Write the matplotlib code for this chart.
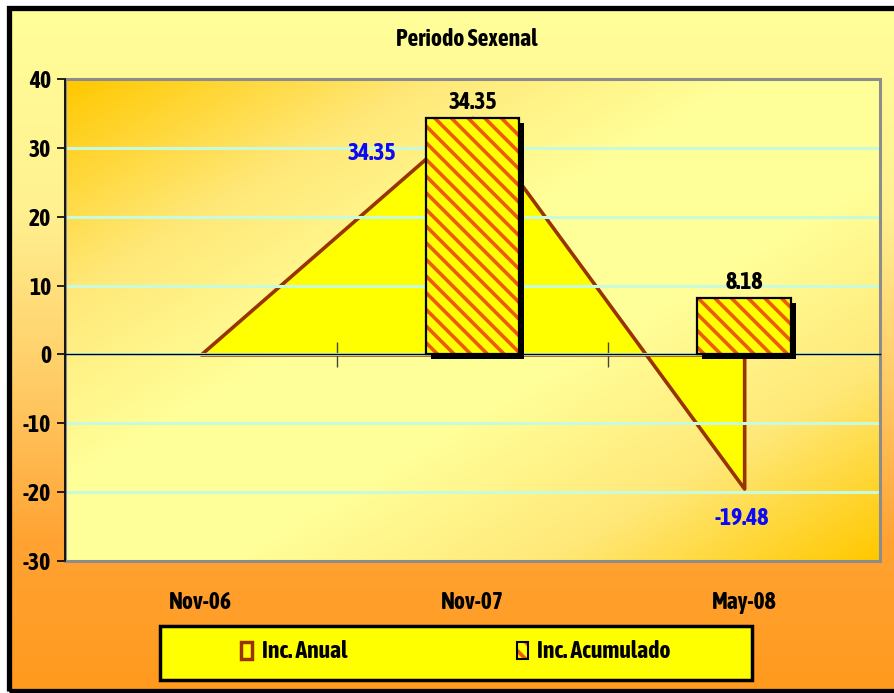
import numpy as np
import matplotlib
matplotlib.use("Agg")
import matplotlib.pyplot as plt
from matplotlib import font_manager
import matplotlib.patheffects as pe
from matplotlib.colors import LinearSegmentedColormap
from matplotlib.patches import Rectangle, Patch
from matplotlib.transforms import ScaledTranslation, blended_transform_factory

# data
categories = ["Nov-06", "Nov-07", "May-08"]
inc_anual = [0.0, 34.35, -19.48]
inc_acumulado = [np.nan, 34.35, 8.18]
yticks = [-30, -20, -10, 0, 10, 20, 30, 40]
title = "Periodo Sexenal"


def wt(f):
    w = f.weight
    if isinstance(w, str):
        w = font_manager.weight_dict.get(w, 400)
    return w


# look for a narrow font (bold if possible), otherwise Liberation Sans
narrow = [f for f in font_manager.fontManager.ttflist
          if 'Narrow' in f.name or 'Condensed' in f.name]
bold_narrow = [f for f in narrow if wt(f) >= 600]
if bold_narrow:
    fam, fake_bold = sorted(bold_narrow, key=lambda f: f.name)[0].name, False
elif narrow:
    fam, fake_bold = sorted(narrow, key=lambda f: f.name)[0].name, True
else:
    fam, fake_bold = 'Liberation Sans', False
FS = 17 if narrow else 13


def effects(color):
    if fake_bold:
        return [pe.withStroke(linewidth=1.1, foreground=color)]
    return []


plt.rcParams['font.family'] = [fam, 'DejaVu Sans']
plt.rcParams['font.weight'] = 'bold'
plt.rcParams['axes.unicode_minus'] = False
plt.rcParams['hatch.linewidth'] = 2.6

fig = plt.figure(figsize=(8.94, 6.93), dpi=100)
fig.patch.set_facecolor('white')
W, H = 894, 693

# outer background gradient (yellow top -> orange bottom)
bg = fig.add_axes([8 / W, 3 / H, 1 - 8 / W, 1 - 11 / H], zorder=-10)
bg.set_axis_off()
bg_cmap = LinearSegmentedColormap.from_list(
    "bg", [(0, "#FF9A1E"), (0.22, "#FFA333"), (0.45, "#FFCC66"),
           (0.7, "#FFF090"), (1, "#FFFF99")])
grad = np.linspace(0, 1, 256).reshape(-1, 1)
bg.imshow(grad, cmap=bg_cmap, aspect='auto', origin='lower', extent=[0, 1, 0, 1])
bg.set_xlim(0, 1)
bg.set_ylim(0, 1)

# border of the chart
fig.patches.append(Rectangle((8.5 / W, 2.5 / H), 1.1, 1 - 10 / H, transform=fig.transFigure,
                             fill=False, edgecolor='black', lw=3.8, zorder=20))

ax = fig.add_axes([65 / W, (H - 561) / H, (880 - 65) / W, (561 - 79) / H])
x = np.arange(len(categories))
ax.set_xlim(-0.5, len(categories) - 0.5)
ax.set_ylim(-30, 40)

# plot area diagonal gradient
u, v = np.meshgrid(np.linspace(0, 1, 200), np.linspace(1, 0, 200))
t = (u + (1 - v)) / 2
pa_cmap = LinearSegmentedColormap.from_list(
    "pa", [(0, "#FFC800"), (0.22, "#FFE878"), (0.42, "#FFFF99"), (0.6, "#FFFF99"),
           (0.8, "#FFE878"), (1, "#FFC800")])
ax.imshow(t, cmap=pa_cmap, aspect='auto', extent=[0, 1, 0, 1],
          transform=ax.transAxes, zorder=0)

ax.set_yticks(yticks)
ax.yaxis.grid(True, color='#C8FADC', lw=2.2, zorder=1)
ax.set_axisbelow(False)

# area series
ax.fill_between(x, inc_anual, 0, facecolor='#FFFF00', edgecolor='#993300', lw=2.6, zorder=2)

# bar series
bx = [xi for xi, vv in zip(x, inc_acumulado) if not np.isnan(vv)]
bv = [vv for vv in inc_acumulado if not np.isnan(vv)]
bw = 0.346
shadow = ax.transData + ScaledTranslation(5 / 100, -5 / 100, fig.dpi_scale_trans)
ax.bar(bx, bv, bw, color='black', transform=shadow, zorder=3)
ax.bar(bx, bv, bw, facecolor='#FFFF00', edgecolor='#EE5A0A', hatch='\\\\', lw=0, zorder=4)
bars = ax.bar(bx, bv, bw, fill=False, edgecolor='black', lw=1.6, zorder=5)
for t_ in ax.bar_label(bars, labels=[f"{vv:.2f}" for vv in bv], padding=3, fontsize=FS,
                       fontweight='bold', color='black', zorder=7):
    t_.set_path_effects(effects('black'))

# area labels
blue = '#0A0AF5'
for i, dx, dy in [(1, -101, -36), (2, -2, -30)]:
    ax.annotate(f"{inc_anual[i]:.2f}", (x[i], inc_anual[i]), xytext=(dx, dy),
                textcoords='offset pixels', ha='center', va='center', fontsize=FS,
                fontweight='bold', color=blue, zorder=7, path_effects=effects(blue))

# axes styling
for s in ['top', 'right']:
    ax.spines[s].set_visible(False)
ax.spines['bottom'].set_position(('data', 0))
ax.spines['bottom'].set_color('black')
ax.spines['bottom'].set_linewidth(1.0)
ax.spines['bottom'].set_zorder(6)
ax.spines['left'].set_color('black')
ax.spines['left'].set_linewidth(1.2)
ax.spines['left'].set_zorder(7)
ax.add_patch(Rectangle((0, 0), 1, 1, transform=ax.transAxes, fill=False,
                       edgecolor='#8C8C8C', lw=2.2, zorder=6, clip_on=False))

ax.set_xticks(x + 0.5)
ax.set_xticklabels([])
ax.tick_params(axis='x', direction='inout', length=18, width=1, color='#444444')
ax.tick_params(axis='y', direction='out', length=6, width=1.2, labelsize=FS, pad=4)
for lab in ax.get_yticklabels():
    lab.set_fontweight('bold')
    lab.set_path_effects(effects('black'))

tr = blended_transform_factory(ax.transData, ax.transAxes)
for xi, c in zip(x, categories):
    ax.text(xi, -0.087, c, transform=tr, ha='center', va='center', fontsize=FS,
            fontweight='bold', path_effects=effects('black'))

fig.text(467 / W, 1 - 40 / H, title, ha='center', va='center', fontsize=FS,
         fontweight='bold', path_effects=effects('black'))

# legend
fig.patches.append(Rectangle((160 / W, 13 / H), 592 / W, 54 / H, transform=fig.transFigure,
                             facecolor='#FFFF00', edgecolor='black', lw=2.5, zorder=8))
h1 = Patch(facecolor='#FFFF00', edgecolor='#993300', lw=2.5)
h2 = (Patch(facecolor='#FFFF00', edgecolor='#EE5A0A', hatch='\\\\', lw=0),
      Patch(fill=False, edgecolor='black', lw=1.5))
leg = fig.legend([h1, h2], ["Inc. Anual", "Inc. Acumulado"], loc='center',
                 bbox_to_anchor=(456 / W, 1 - 652 / H), ncol=2, frameon=False,
                 prop={'size': FS, 'weight': 'bold'}, handlelength=0.45, handleheight=0.7,
                 handletextpad=0.4, columnspacing=7.2)
leg.set_zorder(9)
for t_ in leg.get_texts():
    t_.set_path_effects(effects('black'))

fig.savefig("out.png", dpi=100)
